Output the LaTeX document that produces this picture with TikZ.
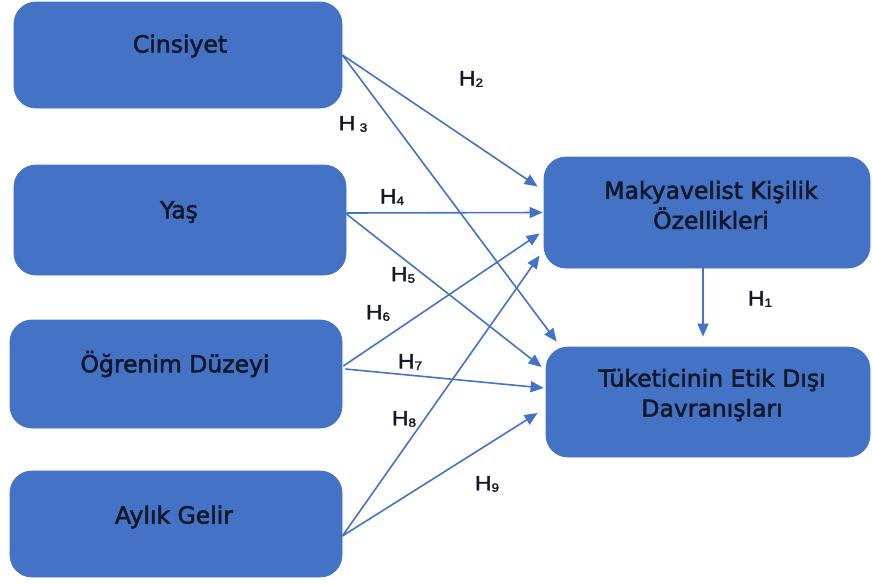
\documentclass[tikz,border=0pt]{standalone}
\usepackage{fontspec}
\setmainfont{DejaVu Sans}
\newfontfamily\boxfont{DejaVu Sans}[FakeBold=2.2]
\newfontfamily\labfont{Liberation Sans}[FakeBold=2.0]
\usetikzlibrary{arrows.meta}
\definecolor{boxblue}{HTML}{4472C4}
\definecolor{boxtextc}{HTML}{15182A}
% hypothesis tag: capital H with a small index set near the baseline
\newcommand\hlab[2][]{\scalebox{1.12}[1]{H#1\raisebox{-1.5pt}{\fontsize{12}{12}\selectfont #2}}}
\tikzset{
  varbox/.style={draw=boxblue, fill=boxblue, line width=0.8pt, rounded corners=22pt, inner sep=0pt},
  boxtext/.style={text=boxtextc, align=center, font=\boxfont\fontsize{23.5}{30}\selectfont},
  hyplabel/.style={text=boxtextc, font=\labfont\fontsize{20.5}{20.5}\selectfont, inner sep=0pt},
  link/.style={draw=boxblue, line width=1.6pt, -{Triangle[length=13pt, width=11pt]}}
}
\begin{document}
\begin{tikzpicture}[x=1pt, y=-1pt]
\useasboundingbox (0,0) rectangle (872,584);

% left column: explanatory variables
\node[varbox, minimum width=328pt, minimum height=106pt] (cin) at (178,55) {};
\node[varbox, minimum width=332pt, minimum height=110pt] (yas) at (180,220) {};
\node[varbox, minimum width=332pt, minimum height=108pt] (ogr) at (176,374) {};
\node[varbox, minimum width=332pt, minimum height=106pt] (ayl) at (176,524) {};

% right column: mediator and outcome
\node[varbox, minimum width=326pt, minimum height=111pt] (mak) at (707,212.5) {};
\node[varbox, minimum width=324pt, minimum height=110pt] (tuk) at (708,402) {};

% box captions
\node[boxtext] (cin-t) at (180,46) {Cinsiyet};
\node[boxtext] (yas-t) at (179,212) {Yaş};
\node[boxtext] (ogr-t) at (175,364) {Öğrenim Düzeyi};
\node[boxtext] (ayl-t) at (174,517) {Aylık Gelir};
\node[boxtext] (mak-t) at (711,205) {Makyavelist Kişilik\\Özellikleri};
\node[boxtext] (tuk-t) at (712,395) {Tüketicinin Etik Dışı\\Davranışları};

% hypothesised paths
\draw[link] (cin.east) -- ([xshift=-6pt, yshift=26pt]mak.west);
\draw[link] (cin.east) -- ([xshift=11pt, yshift=5pt]tuk.north west);
\draw[link] ([yshift=7pt]yas.east) -- ([xshift=-1pt, yshift=0pt]mak.west);
\draw[link] ([yshift=6pt]yas.east) -- ([xshift=-4pt, yshift=35pt]tuk.west);
\draw[link] ([xshift=1pt, yshift=8pt]ogr.east) -- ([xshift=-4pt, yshift=-21pt]mak.west);
\draw[link] ([xshift=3pt, yshift=5pt]ogr.east) -- ([xshift=-2pt, yshift=14pt]tuk.west);
\draw[link] ([yshift=-12pt]ayl.east) -- ([xshift=-4pt, yshift=-43pt]mak.west);
\draw[link] ([yshift=-12pt]ayl.east) -- ([xshift=-8pt, yshift=-11pt]tuk.west);
\draw[link] ([xshift=-4pt]mak.south) -- ([xshift=-5pt, yshift=10pt]tuk.north);

% path labels
\node[hyplabel] (h1) at (760,299) {\hlab{1}};
\node[hyplabel] (h2) at (471,79) {\hlab{2}};
\node[hyplabel] (h3) at (353,124) {\hlab[\hspace{4pt}]{3}};
\node[hyplabel] (h4) at (392,197) {\hlab{4}};
\node[hyplabel] (h5) at (403,275) {\hlab{5}};
\node[hyplabel] (h6) at (378,313) {\hlab{6}};
\node[hyplabel] (h7) at (410,362) {\hlab{7}};
\node[hyplabel] (h8) at (404,419) {\hlab{8}};
\node[hyplabel] (h9) at (487,484) {\hlab{9}};
\end{tikzpicture}
\end{document}
